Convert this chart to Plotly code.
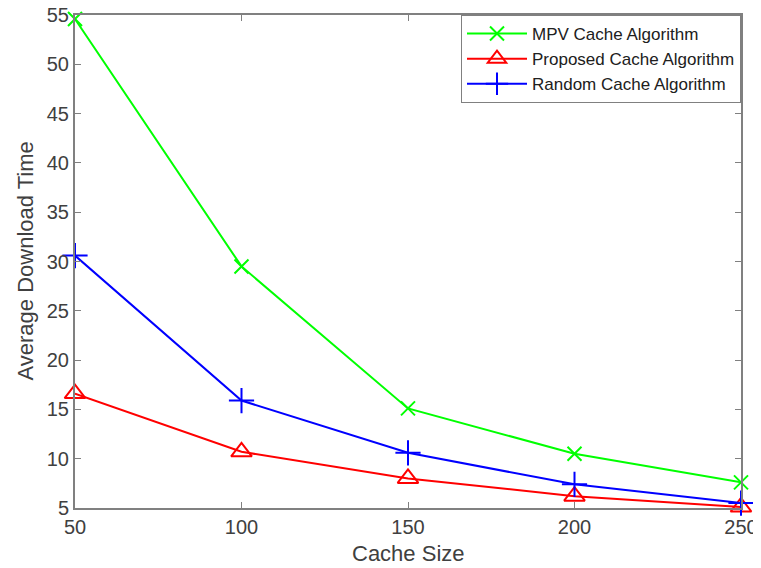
import plotly.graph_objects as go

cache_size = [50, 100, 150, 200, 250]
mpv = [54.6, 29.5, 15.1, 10.5, 7.6]
proposed = [16.6, 10.7, 8.0, 6.2, 5.1]
random_alg = [30.6, 15.9, 10.6, 7.4, 5.5]

fig = go.Figure()
fig.add_trace(go.Scatter(x=cache_size, y=mpv, name="MPV Cache Algorithm",
                         mode="lines+markers", cliponaxis=False,
                         line=dict(color="#00ff00", width=2),
                         marker=dict(symbol="x-thin", size=14, line=dict(color="#00ff00", width=2))))
fig.add_trace(go.Scatter(x=cache_size, y=proposed, name="Proposed Cache Algorithm",
                         mode="lines+markers", cliponaxis=False,
                         line=dict(color="#ff0000", width=2),
                         marker=dict(symbol="triangle-up-open", size=18, line=dict(color="#ff0000", width=2))))
fig.add_trace(go.Scatter(x=cache_size, y=random_alg, name="Random Cache Algorithm",
                         mode="lines+markers", cliponaxis=False,
                         line=dict(color="#0000ff", width=2),
                         marker=dict(symbol="cross-thin", size=18, line=dict(color="#0000ff", width=2))))

axis_common = dict(showline=True, linecolor="#808080", linewidth=2, mirror="ticks",
                   ticks="inside", ticklen=6, tickcolor="#808080", tickwidth=1,
                   showgrid=False, zeroline=False, automargin=False,
                   ticklabeloverflow="allow",
                   tickfont=dict(size=20, color="#404040"))

fig.update_xaxes(range=[50, 250], tickvals=cache_size, **axis_common)
fig.update_yaxes(range=[5, 55], tickvals=list(range(5, 56, 5)), **axis_common)

fig.add_annotation(text="Cache Size", xref="paper", yref="paper", x=0.5, y=0,
                   xanchor="center", yanchor="top", yshift=-31, showarrow=False,
                   font=dict(size=22, color="#404040"))
fig.add_annotation(text="Average Download Time", xref="paper", yref="paper", x=0, y=0.5,
                   xanchor="center", yanchor="middle", xshift=-50, textangle=-90,
                   showarrow=False, font=dict(size=22, color="#404040"))

fig.update_layout(
    width=753, height=560,
    margin=dict(l=67, r=20, t=7, b=60, autoexpand=False),
    paper_bgcolor="white", plot_bgcolor="white",
    font=dict(family="Liberation Sans, Arial, sans-serif", color="#404040"),
    legend=dict(x=1, y=1, xanchor="right", yanchor="top",
                bordercolor="#808080", borderwidth=1, bgcolor="white",
                font=dict(size=17, color="#202020"), tracegroupgap=0,
                itemwidth=60),
    showlegend=True,
)

fig.write_html("out.html")
